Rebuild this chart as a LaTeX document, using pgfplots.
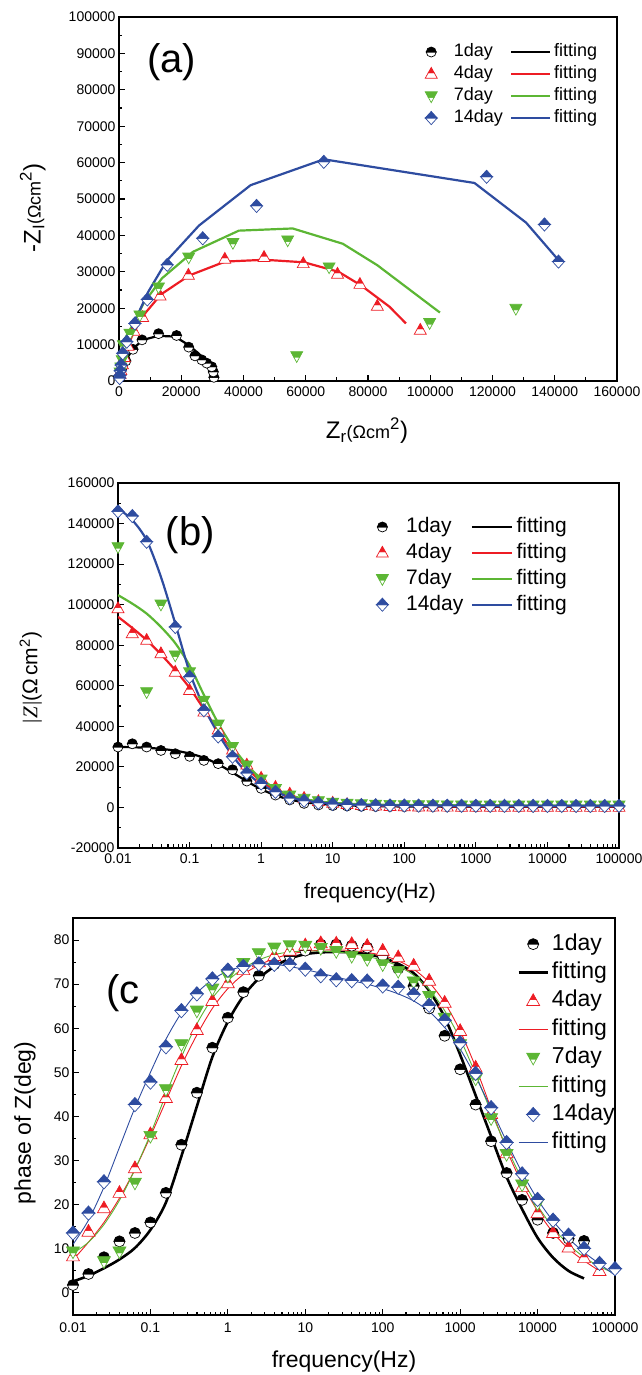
\documentclass[border=0pt]{standalone}
\usepackage{fontspec}
\setmainfont{Liberation Sans}
\newfontfamily\seriffont{Liberation Serif}
\usepackage{pgfplots}
\usepackage{pgfplotstable}
\pgfplotsset{compat=1.18}

\definecolor{cR}{RGB}{237,28,36}
\definecolor{cG}{RGB}{92,182,52}
\definecolor{cB}{RGB}{46,76,160}

% half-filled marks: top half filled with the series colour, bottom half white
\pgfdeclareplotmark{hcirc}{%
 \pgfscope\pgfsetfillcolor{white}%
 \pgfpathmoveto{\pgfqpoint{\pgfplotmarksize}{0pt}}%
 \pgfpatharc{0}{-180}{\pgfplotmarksize}%
 \pgfpathclose\pgfusepathqfillstroke\endpgfscope
 \pgfpathmoveto{\pgfqpoint{-\pgfplotmarksize}{0pt}}%
 \pgfpatharc{180}{0}{\pgfplotmarksize}%
 \pgfpathclose\pgfusepathqfillstroke}
\pgfdeclareplotmark{htriu}{%
 \pgfscope\pgfsetfillcolor{white}%
 \pgfpathmoveto{\pgfqpoint{-.5\pgfplotmarksize}{.2\pgfplotmarksize}}%
 \pgfpathlineto{\pgfqpoint{-\pgfplotmarksize}{-.7\pgfplotmarksize}}%
 \pgfpathlineto{\pgfqpoint{\pgfplotmarksize}{-.7\pgfplotmarksize}}%
 \pgfpathlineto{\pgfqpoint{.5\pgfplotmarksize}{.2\pgfplotmarksize}}%
 \pgfpathclose\pgfusepathqfillstroke\endpgfscope
 \pgfpathmoveto{\pgfqpoint{0pt}{1.1\pgfplotmarksize}}%
 \pgfpathlineto{\pgfqpoint{-.5\pgfplotmarksize}{.2\pgfplotmarksize}}%
 \pgfpathlineto{\pgfqpoint{.5\pgfplotmarksize}{.2\pgfplotmarksize}}%
 \pgfpathclose\pgfusepathqfillstroke}
\pgfdeclareplotmark{htrid}{%
 \pgfscope\pgfsetfillcolor{white}%
 \pgfpathmoveto{\pgfqpoint{-.5\pgfplotmarksize}{-.2\pgfplotmarksize}}%
 \pgfpathlineto{\pgfqpoint{0pt}{-1.1\pgfplotmarksize}}%
 \pgfpathlineto{\pgfqpoint{.5\pgfplotmarksize}{-.2\pgfplotmarksize}}%
 \pgfpathclose\pgfusepathqfillstroke\endpgfscope
 \pgfpathmoveto{\pgfqpoint{-\pgfplotmarksize}{.7\pgfplotmarksize}}%
 \pgfpathlineto{\pgfqpoint{\pgfplotmarksize}{.7\pgfplotmarksize}}%
 \pgfpathlineto{\pgfqpoint{.5\pgfplotmarksize}{-.2\pgfplotmarksize}}%
 \pgfpathlineto{\pgfqpoint{-.5\pgfplotmarksize}{-.2\pgfplotmarksize}}%
 \pgfpathclose\pgfusepathqfillstroke}
\pgfdeclareplotmark{hdiam}{%
 \pgfscope\pgfsetfillcolor{white}%
 \pgfpathmoveto{\pgfqpoint{-\pgfplotmarksize}{0pt}}%
 \pgfpathlineto{\pgfqpoint{0pt}{-1.1\pgfplotmarksize}}%
 \pgfpathlineto{\pgfqpoint{\pgfplotmarksize}{0pt}}%
 \pgfpathclose\pgfusepathqfillstroke\endpgfscope
 \pgfpathmoveto{\pgfqpoint{-\pgfplotmarksize}{0pt}}%
 \pgfpathlineto{\pgfqpoint{0pt}{1.1\pgfplotmarksize}}%
 \pgfpathlineto{\pgfqpoint{\pgfplotmarksize}{0pt}}%
 \pgfpathclose\pgfusepathqfillstroke}

\def\legw{39pt}\def\legh{19.5pt}
\pgfplotsset{
 myax/.style={
  scale only axis,
  axis line style={line width=1.5pt},
  tick align=inside, tick pos=left,
  major tick length=6pt, minor tick length=3.5pt,
  tick style={line width=1.1pt, black},
  tick label style={font=\fontsize{14}{14}\selectfont},
  xticklabel style={yshift=-2pt},
  /pgf/number format/assume math mode=true,
  /pgf/number format/fixed,
  /pgf/number format/1000 sep={},
  scaled ticks=false,
  legend cell align=left,
  legend image code/.code={\path (0pt,0pt) (\legw,0pt);%
    \draw[mark repeat=2,mark phase=2,##1] plot coordinates {(0pt,0pt) (\legh,0pt) (\legw,0pt)};},
 },
 dat/.style={only marks, mark options={solid, line width=0.7pt},
  legend image code/.code={\path (0pt,0pt) (\legw,0pt);%
    \draw[##1,only marks] plot coordinates {(\legh,0pt)};}},
}

% |Z| (Ohm cm^2) versus frequency, panel (b)
\pgfplotstableread{
f        blk    red    grn     blu     fblk   fred   fgrn    fblu
0.01     29800  98100  128500  146000  29800  94000  104700  147500
0.01585  31400  85800  nan     143700  29700  88500  100500  141700
0.02512  29800  82500  57000   131000  29400  82500  95600   131800
0.03981  28100  75900  100200  nan     28900  75500  89000   113700
0.06310  26500  66800  75100   89000   28000  67700  81000   90700
0.1      25200  57800  66800   64400   26600  59000  70000   66800
0.1585   23200  47100  52800   47900   24500  48500  55500   49500
0.2512   21600  38300  41000   35000   21300  37800  41500   36400
0.3981   18600  28400  30000   25000   17200  27800  30000   25500
0.6310   13000  21000  20800   17000   12900  19300  21000   17200
1        9400   14500  13900   11800   9000   13000  14200   11500
1.585    6100   10000  9200    7700    6000   8600   9300    7700
2.512    3700   6700   6000    4600    3900   5700   6100    5100
3.981    2000   4600   4400    3300    2600   3900   4200    3500
6.310    1200   3000   3200    2300    1800   2800   3000    2500
10       900    2200   2500    1700    1300   2000   2300    1900
15.85    700    1500   2000    1400    1000   1500   1900    1500
25.12    550    1100   1700    1200    800    1200   1600    1200
39.81    450    800    1500    1100    650    950    1400    1050
63.10    400    600    1400    1000    550    800    1300    950
100      350    450    1300    950     480    700    1200    880
158.5    320    350    1250    900     430    620    1150    830
251.2    300    300    1200    880     400    560    1100    800
398.1    290    250    1150    860     380    520    1080    780
631.0    280    220    1150    840     360    490    1060    760
1000     270    200    1100    820     350    470    1050    750
1585     260    180    1100    800     340    450    1040    740
2512     250    170    1100    800     330    440    1030    730
3981     250    160    1100    780     320    430    1020    720
6310     240    150    1100    780     310    420    1010    710
10000    240    150    1100    760     300    410    1000    700
15850    230    140    1100    760     300    400    1000    700
25120    230    140    1100    750     290    400    1000    700
39810    220    130    1100    750     290    390    1000    700
63100    220    130    1100    740     280    390    1000    700
100000   220    130    1100    740     280    390    1000    700
}\tabB

% phase (deg) versus frequency, panel (c)
\pgfplotstableread{
f        blk   red   grn   blu   fblk  fred  fgrn  fblu
0.01     1.8   8.3   9.4   13.6  2.6   7.5   9.0   11.0
0.01585  4.3   13.9  nan   18.1  3.9   11.5  11.5  16.5
0.02512  8.1   19.2  7.2   25.2  5.6   16.0  15.5  24.0
0.03981  11.7  22.7  9.4   nan   7.6   21.5  21.0  33.0
0.06310  13.6  28.3  25.0  42.7  10.2  28.0  28.0  42.0
0.1      16.0  36.0  35.6  47.8  14.3  35.5  36.0  50.0
0.1585   22.7  44.2  46.2  55.8  20.5  43.5  45.0  57.5
0.2512   33.6  52.8  56.4  64.0  31.0  51.5  53.5  63.5
0.3981   45.4  59.6  64.0  67.8  42.3  58.5  61.0  68.0
0.6310   55.6  66.2  69.0  71.2  53.5  64.5  66.8  71.0
1        62.4  70.2  71.9  73.2  61.5  69.0  70.8  73.0
1.585    68.2  73.2  74.8  74.0  67.3  72.2  73.6  74.0
2.512    71.9  75.0  77.0  74.6  71.3  74.3  75.5  74.5
3.981    74.5  76.4  78.3  74.5  74.0  75.8  76.7  74.5
6.310    76.3  77.6  78.8  74.5  75.8  76.8  77.3  74.0
10       77.6  78.8  78.7  73.4  76.8  77.4  77.5  73.3
15.85    79.0  79.3  78.2  71.9  77.2  77.7  77.5  72.5
25.12    79.0  79.2  77.5  71.0  77.3  77.8  77.3  71.6
39.81    78.7  79.1  76.4  70.8  77.2  77.6  76.9  70.8
63.10    78.3  78.7  75.7  70.7  76.8  77.2  76.3  70.0
100      76.5  77.6  74.5  69.6  76.0  76.5  75.4  69.0
158.5    73.5  76.1  73.0  69.3  74.6  75.3  74.1  67.8
251.2    69.6  74.2  70.6  67.7  72.5  73.4  72.0  66.2
398.1    64.5  70.8  67.3  65.2  68.5  70.4  68.8  63.8
631.0    58.3  65.8  62.4  61.8  62.5  65.8  64.0  60.2
1000     50.7  59.4  56.4  56.7  54.0  59.4  57.6  55.3
1585     42.7  51.1  48.6  49.8  44.8  51.2  49.6  49.0
2512     34.4  40.6  39.6  42.0  35.5  41.8  41.0  41.8
3981     27.2  31.7  31.5  34.1  26.3  32.5  33.0  34.3
6310     21.1  24.0  24.6  27.0  19.0  24.8  25.8  27.3
10000    16.6  18.1  20.3  21.2  12.5  18.6  19.8  21.2
15850    13.6  13.6  nan   16.5  8.0   13.7  14.8  16.3
25120    12.3  10.3  nan   13.1  5.0   10.0  11.0  12.4
39810    11.8  7.9   nan   10.1  3.3   7.3   8.1   9.2
63100    nan   5.0   nan   6.7   nan   5.0   6.0   6.6
100000   nan   nan   nan   5.5   nan   nan   4.4   4.0
}\tabC

\begin{document}
\begin{tikzpicture}
\useasboundingbox (0,0) rectangle (641pt,1375pt);

%================ (a) Nyquist =================
\def\legw{39pt}\def\legh{19.5pt}
\begin{axis}[myax,
  at={(119pt,994pt)}, anchor=south west,
  width=498pt, height=364pt,
  xmin=0, xmax=160000, ymin=0, ymax=100000,
  xtick={0,20000,40000,60000,80000,100000,120000,140000,160000},
  ytick={0,10000,20000,30000,40000,50000,60000,70000,80000,90000,100000},
  minor x tick num=1, minor y tick num=1,
  xlabel={Z\textsubscript{r}{\fontsize{18}{18}\selectfont(Ωcm}\textsuperscript{2})},
  ylabel={-Z\textsubscript{I}{\fontsize{18}{18}\selectfont(Ωcm}\textsuperscript{2})},
  xlabel style={at={(axis description cs:0.498,-0.137)}, anchor=center, font=\fontsize{24}{24}\selectfont},
  ylabel style={at={(axis description cs:-0.173,0.475)}, anchor=center, font=\fontsize{24}{24}\selectfont},
  legend columns=2,
  legend style={at={(0.581,0.94)}, anchor=north west, draw=none, fill=none,
    font=\fontsize{18}{18}\selectfont,
    nodes={inner ysep=2.5pt, inner xsep=3pt, text height=13pt, text depth=4pt},
    /tikz/every even column/.append style={column sep=4pt}},
]
\addplot[dat, mark=hcirc, mark size=5pt, color=black] coordinates {
 (30500,1000) (30300,2500) (29800,3900) (28200,4900) (26600,5800) (24400,6900)
 (22400,9300) (18500,12500) (12700,13000) (7400,11300) (4500,8700) (2200,5500)
 (1100,3800) (600,2500) (350,1500)};
\addlegendentry{1day}
\addplot[color=black, line width=2.2pt] coordinates {
 (0,0) (600,2500) (1900,5300) (4600,9000) (7800,11300) (12600,12400) (18000,12200)
 (22300,9900) (25500,7600) (28200,5300) (29800,3000) (30300,1200)};
\addlegendentry{fitting}
\addplot[dat, mark=htriu, mark size=6pt, color=cR] coordinates {
 (96800,14000) (83000,20600) (77400,26600) (70200,29400) (59200,32300) (46600,34000)
 (34000,33500) (22300,29100) (13200,23400) (7600,17500) (4800,13700) (2900,9600)
 (1700,6500) (1100,4500) (600,2900) (350,1800)};
\addlegendentry{4day}
\addplot[color=cR, line width=2.2pt] coordinates {
 (100,300) (300,1200) (1400,6700) (4100,12200) (7500,17700) (13500,23800) (22600,29000)
 (34100,32800) (46800,33300) (59500,32600) (70500,30000) (77700,26300) (86900,20400) (92200,15800)};
\addlegendentry{fitting}
\addplot[dat, mark=htrid, mark size=6pt, color=cG] coordinates {
 (127500,19900) (99800,16000) (57100,6900) (67500,31300) (54200,38700) (36600,38000)
 (22400,34000) (12700,25800) (6700,18100) (3500,13100) (1400,9900) (1000,5800)
 (600,3800) (350,2400)};
\addlegendentry{7day}
\addplot[color=cG, line width=2.2pt] coordinates {
 (200,700) (500,4000) (1500,11000) (4100,15000) (8000,21500) (13800,28200) (23800,35500)
 (38500,41300) (55800,41900) (71900,37700) (83000,31800) (103100,18800)};
\addlegendentry{fitting}
\addplot[dat, mark=hdiam, mark size=6pt, color=cB] coordinates {
 (141200,32800) (136700,43000) (118100,56100) (65800,60200) (44200,48100) (26900,39200)
 (15500,31900) (9100,22400) (5100,15800) (2500,10800) (1200,7600) (700,4400)
 (400,2800) (300,1500) (200,800)};
\addlegendentry{14day}
\addplot[color=cB, line width=2.2pt] coordinates {
 (300,1600) (1900,9000) (5200,16700) (9400,24500) (15300,33000) (25700,42700)
 (42300,53800) (65800,60900) (114200,54400) (130800,43500) (141200,33200)};
\addlegendentry{fitting}
\node[font=\fontsize{40}{40}\selectfont] at (rel axis cs:0.106,0.876) {(a)};
\end{axis}

%================ (b) |Z| =================
\def\legw{40pt}\def\legh{20pt}
\begin{axis}[myax,
  at={(118pt,527pt)}, anchor=south west,
  width=501pt, height=365pt,
  xmode=log, xmin=0.01, xmax=100000,
  ymin=-20000, ymax=160000,
  xtick={0.01,0.1,1,10,100,1000,10000,100000},
  xticklabels={0.01,0.1,1,10,100,1000,10000,100000},
  ytick={-20000,0,20000,40000,60000,80000,100000,120000,140000,160000},
  minor y tick num=1,
  xlabel={frequency(Hz)},
  ylabel={{\seriffont|\kern1pt\textit{Z}\kern1pt|}(Ω\,cm\textsuperscript{2})},
  xlabel style={at={(axis description cs:0.503,-0.123)}, anchor=center, font=\fontsize{21}{21}\selectfont},
  ylabel style={at={(axis description cs:-0.174,0.466)}, anchor=center, font=\fontsize{21}{21}\selectfont},
  legend columns=2,
  legend style={at={(0.481,0.921)}, anchor=north west, draw=none, fill=none,
    font=\fontsize{21}{21}\selectfont,
    nodes={inner ysep=3.1pt, inner xsep=3.5pt, text height=15.3pt, text depth=4.4pt},
    /tikz/every even column/.append style={column sep=4pt}},
]
\addplot[dat, mark=hcirc, mark size=5pt, color=black] table[x=f,y=blk] {\tabB};
\addlegendentry{1day}
\addplot[color=black, line width=2.2pt, smooth] table[x=f,y=fblk] {\tabB};
\addlegendentry{fitting}
\addplot[dat, mark=htriu, mark size=6pt, color=cR] table[x=f,y=red] {\tabB};
\addlegendentry{4day}
\addplot[color=cR, line width=2.2pt, smooth] table[x=f,y=fred] {\tabB};
\addlegendentry{fitting}
\addplot[dat, mark=htrid, mark size=6pt, color=cG] table[x=f,y=grn] {\tabB};
\addlegendentry{7day}
\addplot[color=cG, line width=2.2pt, smooth] table[x=f,y=fgrn] {\tabB};
\addlegendentry{fitting}
\addplot[dat, mark=hdiam, mark size=6pt, color=cB] table[x=f,y=blu] {\tabB};
\addlegendentry{14day}
\addplot[color=cB, line width=2.2pt, smooth] table[x=f,y=fblu] {\tabB};
\addlegendentry{fitting}
\node[font=\fontsize{40}{40}\selectfont] at (rel axis cs:0.144,0.858) {(b)};
\end{axis}

%================ (c) phase =================
\def\legw{29pt}\def\legh{14.5pt}
\begin{axis}[myax,
  at={(73pt,60pt)}, anchor=south west,
  width=542pt, height=397pt,
  xmode=log, xmin=0.01, xmax=100000,
  ymin=-5, ymax=85,
  xtick={0.01,0.1,1,10,100,1000,10000,100000},
  xticklabels={0.01,0.1,1,10,100,1000,10000,100000},
  xticklabel style={yshift=-2pt},
  ytick={0,10,20,30,40,50,60,70,80},
  minor y tick num=1,
  xlabel={frequency(Hz)},
  ylabel={phase of Z(deg)},
  xlabel style={at={(axis description cs:0.5,-0.118)}, anchor=center, font=\fontsize{23}{23}\selectfont},
  ylabel style={at={(axis description cs:-0.0886,0.484)}, anchor=center, font=\fontsize{23}{23}\selectfont},
  legend columns=1,
  legend style={at={(0.814,0.9755)}, anchor=north west, draw=none, fill=none,
    font=\fontsize{23}{23}\selectfont,
    nodes={inner ysep=3.4pt, inner xsep=3pt, text height=16.8pt, text depth=4.8pt}},
]
\addplot[dat, mark=hcirc, mark size=5.5pt, color=black] table[x=f,y=blk] {\tabC};
\addlegendentry{1day}
\addplot[color=black, line width=2.6pt, smooth] table[x=f,y=fblk] {\tabC};
\addlegendentry{fitting}
\addplot[dat, mark=htriu, mark size=6.5pt, color=cR] table[x=f,y=red] {\tabC};
\addlegendentry{4day}
\addplot[color=cR, line width=0.9pt, smooth] table[x=f,y=fred] {\tabC};
\addlegendentry{fitting}
\addplot[dat, mark=htrid, mark size=6.5pt, color=cG] table[x=f,y=grn] {\tabC};
\addlegendentry{7day}
\addplot[color=cG, line width=0.9pt, smooth] table[x=f,y=fgrn] {\tabC};
\addlegendentry{fitting}
\addplot[dat, mark=hdiam, mark size=6.5pt, color=cB] table[x=f,y=blu] {\tabC};
\addlegendentry{14day}
\addplot[color=cB, line width=0.9pt, smooth] table[x=f,y=fblu] {\tabC};
\addlegendentry{fitting}
\node[font=\fontsize{40}{40}\selectfont] at (rel axis cs:0.092,0.811) {(c};
\end{axis}
\end{tikzpicture}
\end{document}
